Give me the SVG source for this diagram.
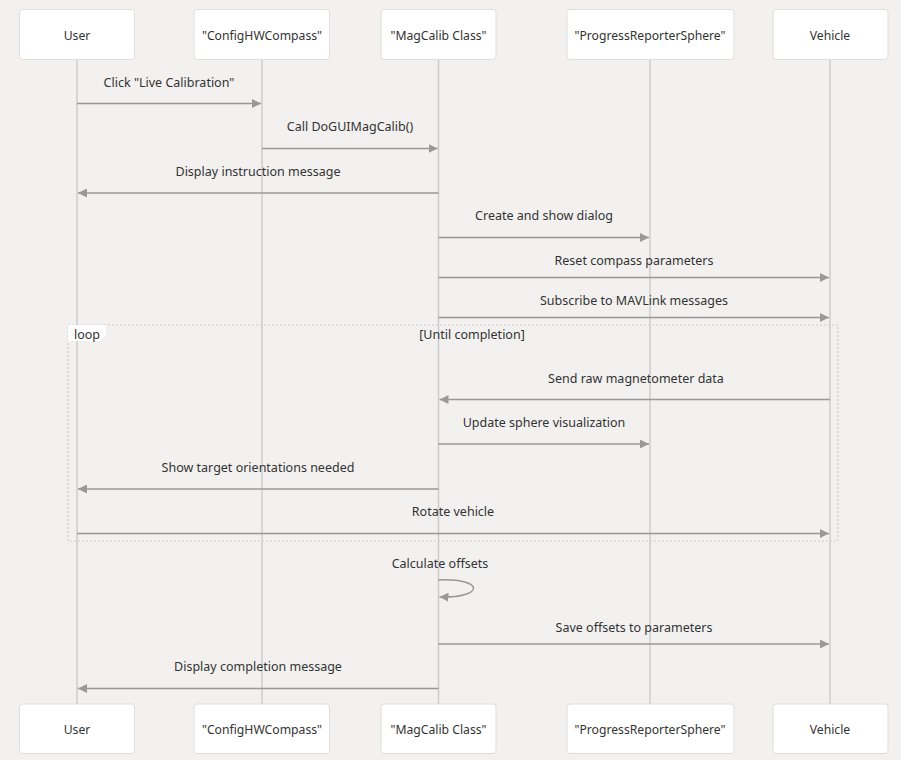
<svg xmlns="http://www.w3.org/2000/svg" width="901" height="760" viewBox="0 0 901 760">
<defs>
<marker id="ah" viewBox="0 0 10 10" refX="10" refY="5" markerWidth="9" markerHeight="9" markerUnits="userSpaceOnUse" orient="auto">
<path d="M0,0 L10,5 L0,10 z" fill="#999"/>
</marker>
</defs>
<style>
.bg{fill:#f2f1ef}
.actor rect{fill:#fff;stroke:#ddd;stroke-width:1}
.actor text{font-family:"Noto Sans","Open Sans",sans-serif;font-size:12.2px;fill:#333;text-anchor:middle;dominant-baseline:central}
.life{stroke:#ccc;stroke-width:1.5}
.msg{stroke:#999;stroke-width:1.5;fill:none;marker-end:url(#ah)}
.lbl{font-family:"Noto Sans","Open Sans",sans-serif;font-size:12.5px;fill:#333;text-anchor:middle}
.loopbox{fill:none;stroke:#ccc;stroke-width:1.2;stroke-dasharray:2,2}
</style>
<rect class="bg" width="901" height="760"/>
<g id="lifelines">
<line class="life" x1="77" y1="59" x2="77" y2="704"/>
<line class="life" x1="262" y1="59" x2="262" y2="704"/>
<line class="life" x1="438.5" y1="59" x2="438.5" y2="704"/>
<line class="life" x1="650" y1="59" x2="650" y2="704"/>
<line class="life" x1="830" y1="59" x2="830" y2="704"/>
</g>
<g id="actor-user-top" class="actor"><rect x="19.5" y="9.5" width="115" height="50" rx="3"/><text x="77" y="35">User</text></g>
<g id="actor-config-top" class="actor"><rect x="194" y="9.5" width="135.5" height="50" rx="3"/><text x="262" y="35">"ConfigHWCompass"</text></g>
<g id="actor-magcalib-top" class="actor"><rect x="381" y="9.5" width="115" height="50" rx="3"/><text x="438.5" y="35">"MagCalib Class"</text></g>
<g id="actor-progress-top" class="actor"><rect x="567" y="9.5" width="167" height="50" rx="3"/><text x="650" y="35">"ProgressReporterSphere"</text></g>
<g id="actor-vehicle-top" class="actor"><rect x="773" y="9.5" width="115" height="50" rx="3"/><text x="830" y="35">Vehicle</text></g>
<g id="actor-user-bottom" class="actor"><rect x="19.5" y="704" width="115" height="49.5" rx="3"/><text x="77" y="729.5">User</text></g>
<g id="actor-config-bottom" class="actor"><rect x="194" y="704" width="135.5" height="49.5" rx="3"/><text x="262" y="729.5">"ConfigHWCompass"</text></g>
<g id="actor-magcalib-bottom" class="actor"><rect x="381" y="704" width="115" height="49.5" rx="3"/><text x="438.5" y="729.5">"MagCalib Class"</text></g>
<g id="actor-progress-bottom" class="actor"><rect x="567" y="704" width="167" height="49.5" rx="3"/><text x="650" y="729.5">"ProgressReporterSphere"</text></g>
<g id="actor-vehicle-bottom" class="actor"><rect x="773" y="704" width="115" height="49.5" rx="3"/><text x="830" y="729.5">Vehicle</text></g>
<g id="loop">
<rect class="loopbox" x="68" y="325" width="770" height="216"/>
<path d="M68,325 H106 V335 L100,341 H68 z" fill="#fff"/>
<text x="74" y="339" font-family="Noto Sans,Open Sans,sans-serif" font-size="12.5" fill="#333">loop</text>
<text class="lbl" x="472" y="339">[Until completion]</text>
</g>
<g id="connectors">
<text class="lbl" x="169" y="87">Click "Live Calibration"</text>
<line class="msg" x1="77" y1="103.5" x2="261" y2="103.5"/>
<text class="lbl" x="350" y="131">Call DoGUIMagCalib()</text>
<line class="msg" x1="262" y1="148.5" x2="437.5" y2="148.5"/>
<text class="lbl" x="258" y="176">Display instruction message</text>
<line class="msg" x1="438.5" y1="193" x2="78" y2="193"/>
<text class="lbl" x="544" y="220">Create and show dialog</text>
<line class="msg" x1="438.5" y1="237.5" x2="649" y2="237.5"/>
<text class="lbl" x="634" y="265">Reset compass parameters</text>
<line class="msg" x1="438.5" y1="277.5" x2="829" y2="277.5"/>
<text class="lbl" x="634" y="305">Subscribe to MAVLink messages</text>
<line class="msg" x1="438.5" y1="317.5" x2="829" y2="317.5"/>
<text class="lbl" x="636" y="383">Send raw magnetometer data</text>
<line class="msg" x1="830" y1="399.5" x2="439.5" y2="399.5"/>
<text class="lbl" x="544" y="427">Update sphere visualization</text>
<line class="msg" x1="438.5" y1="444" x2="649" y2="444"/>
<text class="lbl" x="258" y="472">Show target orientations needed</text>
<line class="msg" x1="438.5" y1="489" x2="78" y2="489"/>
<text class="lbl" x="453" y="516">Rotate vehicle</text>
<line class="msg" x1="77" y1="533.5" x2="829" y2="533.5"/>
<text class="lbl" x="440" y="568">Calculate offsets</text>
<path class="msg" d="M438.5,580 C485,578 485,598 439.5,597"/>
<text class="lbl" x="634" y="632">Save offsets to parameters</text>
<line class="msg" x1="438.5" y1="644" x2="829" y2="644"/>
<text class="lbl" x="258" y="671">Display completion message</text>
<line class="msg" x1="438.5" y1="688.5" x2="78" y2="688.5"/>
</g>
</svg>
